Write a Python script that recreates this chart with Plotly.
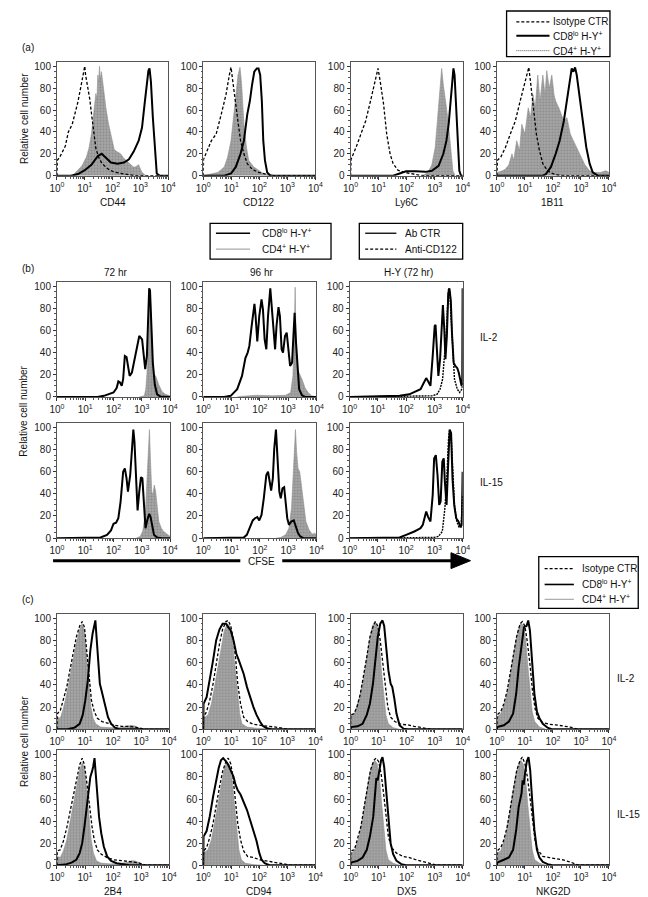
import plotly.graph_objects as go

W, H = 648, 897

# ---------------------------------------------------------------------------
# DATA: each curve is a list of (log10 fluorescence, relative cell number)
# ---------------------------------------------------------------------------
TICK_LABELS_X = ["10<sup>0</sup>", "10<sup>1</sup>", "10<sup>2</sup>", "10<sup>3</sup>", "10<sup>4</sup>"]
TICK_VALUES_Y = [0, 20, 40, 60, 80, 100]

# ----- panel (a) -----
MARKERS_A = ["CD44", "CD122", "Ly6C", "1B11"]

CD44_ISO = [(0.0, 0), (0.01, 14), (0.1, 17), (0.2, 22), (0.3, 27), (0.41, 40), (0.55, 47), (0.65, 57),
            (0.75, 67), (0.85, 80), (0.92, 88), (0.97, 95), (1.0, 100), (1.03, 92), (1.1, 82), (1.18, 70),
            (1.25, 55), (1.32, 38), (1.4, 25), (1.5, 17), (1.6, 12), (1.75, 8), (1.9, 5), (2.1, 3),
            (2.3, 2), (2.5, 1), (2.8, 0), (4.0, 0)]
CD44_CD4 = [(0.6, 1), (0.76, 5), (0.9, 9), (1.06, 17), (1.15, 25), (1.24, 38), (1.3, 50), (1.35, 62),
            (1.4, 75), (1.44, 70), (1.47, 92), (1.5, 85), (1.53, 100), (1.56, 88), (1.6, 95), (1.65, 85),
            (1.7, 72), (1.76, 62), (1.85, 48), (1.94, 38), (2.06, 24), (2.15, 22), (2.29, 20), (2.4, 16),
            (2.53, 13), (2.65, 10), (2.75, 8), (2.82, 8), (2.94, 10), (3.0, 6), (3.06, 3), (3.2, 0)]
CD44_CD8 = [(0.0, 0), (0.5, 0), (0.76, 1.5), (1.0, 5), (1.24, 10), (1.47, 18), (1.61, 20), (1.76, 16),
            (1.94, 12), (2.18, 11), (2.41, 12), (2.59, 15), (2.76, 22), (2.94, 32), (3.06, 44), (3.15, 65),
            (3.24, 83), (3.29, 96), (3.33, 98), (3.38, 86), (3.45, 53), (3.53, 17), (3.59, 2), (3.7, 0),
            (4.0, 0)]

CD122_ISO = [(0.0, 0), (0.01, 15), (0.29, 32), (0.46, 38), (0.64, 56), (0.81, 74), (0.93, 92), (0.99, 99),
             (1.04, 89), (1.12, 71), (1.22, 53), (1.33, 32), (1.45, 20), (1.57, 11), (1.74, 6), (1.97, 3),
             (2.26, 1), (2.49, 0), (4.0, 0)]
CD122_CD4 = [(0.0, 0), (0.29, 1.5), (0.52, 3), (0.75, 8), (0.87, 17), (0.99, 32), (1.08, 53), (1.16, 77),
             (1.24, 92), (1.31, 99), (1.37, 83), (1.45, 47), (1.54, 26), (1.62, 14), (1.8, 8), (1.97, 5),
             (2.14, 2), (2.38, 0)]
CD122_CD8 = [(0.0, 0), (0.75, 0), (0.99, 2), (1.16, 8), (1.33, 20), (1.45, 32), (1.57, 56), (1.66, 68),
             (1.74, 83), (1.82, 95), (1.91, 98), (1.97, 98), (2.03, 92), (2.09, 68), (2.14, 32), (2.2, 14),
             (2.28, 3), (2.38, 0.5), (2.49, 0), (4.0, 0)]

LY6C_ISO = [(0.0, 0), (0.02, 15), (0.2, 26), (0.37, 38), (0.54, 50), (0.71, 68), (0.89, 89), (0.98, 98),
            (1.06, 86), (1.18, 65), (1.29, 38), (1.41, 20), (1.52, 11), (1.69, 5), (1.93, 3), (2.21, 1.5),
            (2.44, 0.5), (2.67, 0), (4.0, 0)]
LY6C_CD4 = [(2.56, 0), (2.67, 1.5), (2.79, 4.5), (2.9, 10), (3.02, 26), (3.11, 53), (3.19, 83), (3.25, 98),
            (3.31, 83), (3.37, 68), (3.42, 62), (3.48, 50), (3.54, 32), (3.6, 14), (3.65, 4.5), (3.73, 0)]
LY6C_CD8 = [(0.0, 0), (1.52, 0), (1.75, 2), (1.98, 4), (2.33, 4), (2.67, 3.5), (2.9, 4.5), (3.14, 9),
            (3.31, 20), (3.42, 32), (3.5, 47), (3.57, 68), (3.63, 92), (3.67, 98), (3.71, 92), (3.77, 62),
            (3.83, 26), (3.88, 4.5), (3.94, 0), (4.0, 0)]

B11_ISO = [(0.0, 0), (0.02, 14), (0.14, 17), (0.31, 26), (0.48, 38), (0.66, 50), (0.83, 68), (1.0, 86),
           (1.08, 95), (1.14, 99), (1.2, 86), (1.29, 65), (1.41, 38), (1.52, 23), (1.64, 11), (1.81, 4.5),
           (1.98, 2), (2.21, 0.5), (2.44, 0), (4.0, 0)]
B11_CD4 = [(0.0, 0), (0.02, 3), (0.2, 4.5), (0.31, 6), (0.43, 10), (0.54, 20), (0.6, 14), (0.71, 32),
           (0.81, 23), (0.89, 47), (1.0, 38), (1.12, 62), (1.2, 53), (1.29, 74), (1.37, 62), (1.46, 92),
           (1.54, 68), (1.64, 92), (1.72, 74), (1.78, 96), (1.87, 80), (1.96, 92), (2.04, 74), (2.1, 68),
           (2.21, 62), (2.31, 56), (2.39, 50), (2.5, 53), (2.62, 38), (2.73, 32), (2.85, 26), (2.96, 20),
           (3.14, 10), (3.31, 4.5), (3.48, 3), (3.71, 3), (3.88, 4.5), (4.0, 3)]
B11_CD8 = [(0.0, 0), (1.64, 0), (1.75, 1.5), (1.93, 8), (2.1, 20), (2.24, 32), (2.39, 50), (2.5, 68),
           (2.62, 92), (2.67, 98), (2.73, 95), (2.79, 99), (2.85, 92), (2.96, 71), (3.08, 47), (3.19, 26),
           (3.31, 11), (3.42, 3), (3.6, 0), (4.0, 0)]

# ----- panel (b) CFSE -----
TITLES_B = ["72 hr", "96 hr", "H-Y (72 hr)"]
ROWS_B = ["IL-2", "IL-15"]

H72_IL2_CD8 = [(0.0, 0), (1.43, 0), (1.66, 1), (1.83, 2.5), (2.0, 4), (2.11, 8), (2.17, 14), (2.23, 13),
               (2.29, 10), (2.34, 16), (2.4, 37), (2.46, 36), (2.51, 28), (2.57, 19), (2.65, 22), (2.74, 34),
               (2.82, 44), (2.91, 55), (3.01, 52), (3.06, 37), (3.12, 25), (3.18, 37), (3.22, 72), (3.26, 98),
               (3.29, 96), (3.34, 64), (3.39, 31), (3.46, 11), (3.54, 2.4), (3.66, 0.3), (4.0, 0)]
H72_IL2_CD4 = [(2.91, 0), (3.09, 1), (3.14, 7), (3.2, 28), (3.26, 64), (3.29, 96), (3.33, 72), (3.37, 37),
               (3.43, 20), (3.49, 19), (3.6, 11), (3.71, 5), (3.83, 2.4), (4.0, 1)]
H96_IL2_CD8 = [(0.0, 0), (0.74, 0), (0.97, 1), (1.2, 7), (1.37, 19), (1.49, 35), (1.57, 40), (1.63, 46),
               (1.71, 64), (1.81, 84), (1.85, 73), (1.91, 50), (1.98, 73), (2.06, 88), (2.11, 79), (2.17, 52),
               (2.23, 43), (2.29, 73), (2.37, 98), (2.42, 81), (2.48, 55), (2.54, 43), (2.59, 64), (2.66, 81),
               (2.71, 73), (2.77, 43), (2.82, 40), (2.89, 55), (2.95, 58), (3.01, 40), (3.07, 28), (3.14, 31),
               (3.2, 73), (3.23, 76), (3.28, 49), (3.34, 22), (3.39, 7), (3.49, 1.5), (3.6, 0), (4.0, 0)]
H96_IL2_CD4 = [(1.2, 0), (1.31, 0.5), (1.89, 1.5), (2.46, 1), (2.91, 1.5), (3.09, 4), (3.17, 19), (3.21, 49),
               (3.25, 99), (3.28, 49), (3.33, 25), (3.39, 22), (3.49, 16), (3.6, 8), (3.71, 4), (3.83, 1),
               (4.0, 0)]
HY_IL2_CTR = [(0.0, 0), (1.43, 0.3), (1.77, 1), (2.11, 2.4), (2.34, 5), (2.51, 7), (2.63, 13), (2.71, 17),
              (2.78, 14), (2.86, 10), (2.94, 37), (3.01, 64), (3.04, 65), (3.09, 43), (3.14, 19), (3.2, 34),
              (3.26, 73), (3.3, 83), (3.35, 61), (3.39, 34), (3.44, 55), (3.49, 93), (3.53, 98), (3.58, 87),
              (3.62, 58), (3.68, 31), (3.74, 28), (3.81, 26), (3.86, 22), (3.92, 13), (3.96, 10),
              (3.985, 16), (3.997, 98)]
HY_IL2_ANTI = [(0.0, 0), (2.57, 0.3), (2.91, 1), (3.09, 2.4), (3.2, 7), (3.29, 16), (3.35, 34), (3.42, 58),
               (3.46, 79), (3.5, 98), (3.54, 96), (3.59, 73), (3.65, 37), (3.71, 16), (3.81, 7), (3.89, 4),
               (3.97, 7), (4.0, 13)]

H72_IL15_CD8 = [(0.0, 0), (1.2, 0), (1.54, 0.6), (1.77, 3), (1.91, 7), (2.0, 13), (2.09, 14), (2.17, 18),
                (2.25, 33), (2.34, 60), (2.4, 63), (2.46, 54), (2.51, 42), (2.59, 57), (2.66, 90), (2.7, 98),
                (2.74, 87), (2.8, 54), (2.85, 25), (2.91, 42), (2.97, 55), (3.02, 54), (3.07, 30), (3.13, 9),
                (3.19, 16), (3.26, 22), (3.31, 19), (3.37, 9), (3.43, 3), (3.54, 0.6), (3.71, 0), (4.0, 0)]
H72_IL15_CD4 = [(2.8, 0), (2.94, 1.5), (3.03, 6), (3.1, 18), (3.14, 30), (3.2, 63), (3.25, 90), (3.27, 98),
                (3.3, 75), (3.35, 42), (3.39, 39), (3.44, 48), (3.49, 42), (3.54, 27), (3.6, 15), (3.69, 9),
                (3.77, 6), (3.85, 4.5), (3.94, 3), (4.0, 1.5)]
H96_IL15_CD8 = [(0.0, 0), (1.2, 0), (1.43, 0.6), (1.54, 3), (1.66, 10), (1.75, 16), (1.83, 18), (1.91, 19),
                (1.98, 16), (2.06, 21), (2.14, 36), (2.23, 57), (2.29, 60), (2.34, 51), (2.4, 43), (2.46, 54),
                (2.51, 81), (2.57, 98), (2.63, 75), (2.69, 42), (2.74, 36), (2.8, 45), (2.86, 46), (2.91, 33),
                (2.97, 18), (3.03, 12), (3.11, 15), (3.2, 16), (3.28, 10), (3.35, 4.5), (3.43, 1.5), (3.54, 0),
                (4.0, 0)]
H96_IL15_CD4 = [(2.57, 0), (2.74, 0.6), (2.91, 3), (3.03, 9), (3.12, 27), (3.17, 54), (3.22, 84), (3.26, 98),
                (3.3, 78), (3.35, 63), (3.41, 60), (3.47, 48), (3.54, 30), (3.63, 15), (3.74, 7.5), (3.85, 3.6),
                (3.94, 4.5), (4.0, 3)]
HY_IL15_CTR = [(0.0, 0), (1.43, 0), (1.77, 0.6), (2.0, 3), (2.17, 4.5), (2.29, 6), (2.4, 7.5), (2.51, 9),
               (2.59, 12), (2.71, 24), (2.78, 19), (2.86, 15), (2.94, 39), (2.99, 72), (3.05, 75), (3.11, 57),
               (3.17, 30), (3.22, 33), (3.28, 69), (3.33, 72), (3.37, 51), (3.43, 30), (3.49, 69), (3.54, 98),
               (3.59, 95), (3.64, 54), (3.7, 30), (3.77, 18), (3.85, 15), (3.92, 10), (3.97, 12), (3.997, 60)]
HY_IL15_ANTI = [(0.0, 0), (2.57, 0), (2.97, 0.6), (3.14, 1.5), (3.28, 6), (3.37, 27), (3.44, 54), (3.5, 90),
                (3.54, 98), (3.59, 93), (3.65, 57), (3.71, 30), (3.79, 15), (3.87, 10), (3.94, 10), (4.0, 39)]

# ----- panel (c) -----
MARKERS_C = ["2B4", "CD94", "DX5", "NKG2D"]
ROWS_C = ["IL-2", "IL-15"]

B4_IL2_ISO = [(0.0, 0), (0.01, 14), (0.12, 17), (0.23, 26), (0.35, 38), (0.46, 53), (0.58, 68), (0.69, 83),
              (0.81, 93), (0.9, 97), (0.98, 92), (1.06, 71), (1.15, 44), (1.23, 26), (1.33, 16), (1.44, 10),
              (1.61, 7), (1.84, 5), (2.07, 3.6), (2.31, 2.7), (2.54, 2.7), (2.77, 2), (3.0, 1), (3.17, 0),
              (4.0, 0)]
B4_IL2_CD4 = [(0.0, 0), (0.01, 11), (0.12, 10), (0.23, 19), (0.35, 32), (0.46, 47), (0.58, 63), (0.69, 78),
              (0.81, 90), (0.9, 95), (0.98, 89), (1.06, 68), (1.14, 41), (1.21, 20), (1.29, 10), (1.38, 5),
              (1.56, 2), (1.9, 1.5), (2.25, 1.5), (2.48, 2.7), (2.65, 3.6), (2.77, 3), (2.94, 1.5), (3.05, 0)]
B4_IL2_CD8 = [(0.0, 0), (0.4, 0.3), (0.63, 1.5), (0.81, 5), (0.92, 13), (1.01, 26), (1.1, 44), (1.19, 71),
              (1.27, 86), (1.33, 92), (1.37, 98), (1.42, 80), (1.48, 59), (1.53, 41), (1.59, 35), (1.65, 29),
              (1.73, 20), (1.82, 11), (1.93, 5), (2.07, 1.5), (2.25, 0), (4.0, 0)]

CD94_IL2_ISO = [(0.0, 0), (0.01, 11), (0.12, 16), (0.23, 26), (0.35, 41), (0.46, 59), (0.58, 77), (0.69, 90),
                (0.81, 97), (0.89, 98), (0.98, 93), (1.06, 83), (1.15, 65), (1.23, 41), (1.33, 23), (1.44, 11),
                (1.58, 7), (1.79, 4.5), (2.02, 4), (2.31, 2.7), (2.59, 2), (2.82, 1), (3.05, 0), (4.0, 0)]
CD94_IL2_CD4 = [(0.0, 0), (0.01, 10), (0.17, 13), (0.29, 23), (0.4, 38), (0.52, 56), (0.63, 74), (0.75, 89),
                (0.86, 95), (0.95, 93), (1.04, 80), (1.12, 59), (1.21, 32), (1.3, 14), (1.38, 5), (1.56, 2),
                (1.9, 1), (2.36, 0.5), (2.59, 0)]
CD94_IL2_CD8 = [(0.0, 0), (0.01, 23), (0.12, 29), (0.23, 44), (0.35, 62), (0.46, 80), (0.58, 90), (0.69, 95),
                (0.81, 95), (0.89, 92), (0.98, 89), (1.08, 80), (1.18, 68), (1.27, 62), (1.35, 56), (1.44, 50),
                (1.56, 38), (1.67, 29), (1.79, 20), (1.9, 13), (2.02, 7), (2.13, 3), (2.27, 1), (2.42, 0),
                (4.0, 0)]

DX5_IL2_ISO = [(0.0, 0), (0.01, 13), (0.12, 14), (0.23, 20), (0.35, 32), (0.46, 47), (0.58, 65), (0.69, 83),
               (0.81, 93), (0.89, 97), (0.97, 93), (1.06, 80), (1.15, 59), (1.23, 38), (1.33, 20), (1.43, 11),
               (1.58, 7), (1.81, 4.5), (2.04, 4), (2.27, 2.7), (2.56, 1.5), (2.91, 0), (4.0, 0)]
DX5_IL2_CD4 = [(0.0, 0), (0.01, 13), (0.14, 14), (0.31, 28), (0.43, 41), (0.54, 59), (0.66, 78), (0.77, 92),
               (0.86, 97), (0.95, 93), (1.03, 77), (1.1, 53), (1.18, 29), (1.26, 13), (1.35, 5), (1.52, 1.5),
               (1.75, 0)]
DX5_IL2_CD8 = [(0.0, 0), (0.01, 2), (0.25, 2.7), (0.43, 5), (0.58, 13), (0.69, 23), (0.8, 41), (0.89, 62),
               (0.97, 83), (1.06, 95), (1.14, 98), (1.2, 93), (1.27, 74), (1.35, 53), (1.43, 41), (1.49, 38),
               (1.56, 28), (1.64, 14), (1.75, 3.6), (1.89, 0.6), (2.04, 0), (4.0, 0)]

NKG_IL2_ISO = [(0.0, 0), (0.01, 13), (0.14, 16), (0.25, 23), (0.37, 35), (0.48, 50), (0.6, 68), (0.71, 84),
               (0.83, 95), (0.91, 97), (1.0, 93), (1.08, 80), (1.18, 59), (1.27, 35), (1.36, 19), (1.46, 10),
               (1.64, 6), (1.87, 4.5), (2.1, 4), (2.33, 3), (2.62, 2), (2.91, 0), (4.0, 0)]
NKG_IL2_CD4 = [(0.0, 0), (0.01, 11), (0.14, 14), (0.31, 26), (0.43, 41), (0.54, 59), (0.66, 77), (0.77, 90),
               (0.86, 96), (0.95, 93), (1.03, 80), (1.1, 59), (1.18, 35), (1.26, 16), (1.35, 7), (1.52, 2),
               (1.75, 0)]
NKG_IL2_CD8 = [(0.0, 0), (0.01, 2), (0.25, 3.6), (0.43, 7), (0.58, 14), (0.69, 32), (0.78, 56), (0.88, 77),
               (0.97, 92), (1.06, 93), (1.12, 98), (1.18, 89), (1.26, 62), (1.34, 32), (1.43, 16), (1.52, 10),
               (1.64, 5), (1.81, 1.5), (1.98, 0), (4.0, 0)]

B4_IL15_ISO = [(0.0, 0), (0.01, 13), (0.12, 14), (0.23, 22), (0.35, 34), (0.46, 47), (0.58, 62), (0.69, 77),
               (0.81, 91), (0.9, 97), (0.98, 91), (1.07, 74), (1.16, 53), (1.25, 35), (1.33, 23), (1.44, 14),
               (1.58, 10), (1.79, 7), (2.02, 5), (2.25, 4.5), (2.48, 4), (2.71, 3), (2.94, 2), (3.17, 0),
               (4.0, 0)]
B4_IL15_CD4 = [(0.0, 0), (0.01, 8), (0.12, 7), (0.23, 13), (0.35, 23), (0.46, 38), (0.58, 56), (0.69, 73),
               (0.81, 86), (0.9, 93), (0.98, 88), (1.06, 68), (1.14, 44), (1.22, 23), (1.3, 11), (1.41, 4),
               (1.56, 2), (1.9, 1.2), (2.25, 1.8), (2.48, 2.4), (2.65, 4), (2.77, 4), (2.88, 3), (3.0, 1.5),
               (3.11, 0)]
B4_IL15_CD8 = [(0.0, 0), (0.29, 0.6), (0.52, 2.4), (0.69, 5), (0.81, 11), (0.9, 20), (0.98, 35), (1.06, 53),
               (1.13, 71), (1.19, 80), (1.25, 85), (1.29, 89), (1.34, 97), (1.38, 83), (1.44, 62), (1.5, 44),
               (1.58, 29), (1.67, 17), (1.79, 8), (1.93, 4), (2.13, 1.8), (2.36, 0.6), (2.59, 0), (4.0, 0)]

CD94_IL15_ISO = [(0.0, 0), (0.01, 13), (0.12, 16), (0.23, 25), (0.35, 38), (0.46, 55), (0.58, 71), (0.69, 85),
                 (0.81, 94), (0.89, 97), (0.98, 92), (1.06, 80), (1.15, 59), (1.23, 38), (1.33, 23), (1.44, 13),
                 (1.58, 8), (1.79, 7), (2.02, 5), (2.31, 4), (2.59, 2.4), (2.88, 1.2), (3.11, 0), (4.0, 0)]
CD94_IL15_CD4 = [(0.0, 0), (0.01, 11), (0.17, 14), (0.29, 23), (0.4, 38), (0.52, 56), (0.63, 74), (0.75, 88),
                 (0.84, 94), (0.93, 91), (1.03, 77), (1.11, 56), (1.19, 32), (1.27, 14), (1.36, 5), (1.5, 1.8),
                 (1.79, 0.6), (2.13, 0)]
CD94_IL15_CD8 = [(0.0, 0), (0.01, 26), (0.12, 31), (0.23, 44), (0.35, 62), (0.46, 77), (0.55, 88), (0.63, 95),
                 (0.71, 97), (0.81, 94), (0.89, 91), (0.98, 86), (1.08, 80), (1.15, 73), (1.23, 68), (1.33, 64),
                 (1.44, 58), (1.56, 50), (1.67, 41), (1.79, 32), (1.9, 22), (2.0, 11), (2.08, 5), (2.19, 1.8),
                 (2.36, 0), (4.0, 0)]

DX5_IL15_ISO = [(0.0, 0), (0.01, 13), (0.14, 14), (0.25, 23), (0.37, 35), (0.48, 52), (0.6, 70), (0.71, 86),
                (0.83, 95), (0.91, 97), (1.0, 94), (1.09, 83), (1.18, 65), (1.26, 44), (1.35, 26), (1.46, 16),
                (1.64, 11), (1.87, 8), (2.1, 7), (2.33, 5), (2.62, 3), (2.91, 1.2), (3.08, 0), (4.0, 0)]
DX5_IL15_CD4 = [(0.0, 0), (0.01, 11), (0.14, 13), (0.31, 26), (0.43, 43), (0.54, 62), (0.66, 80), (0.77, 91),
                (0.86, 95), (0.95, 92), (1.03, 80), (1.1, 59), (1.18, 32), (1.26, 14), (1.35, 5), (1.52, 1.8),
                (1.75, 0)]
DX5_IL15_CD8 = [(0.0, 0), (0.01, 2.4), (0.25, 4), (0.43, 7), (0.58, 14), (0.69, 26), (0.81, 44), (0.89, 65),
                (0.92, 79), (0.97, 77), (1.04, 89), (1.09, 95), (1.14, 98), (1.2, 89), (1.27, 68), (1.35, 41),
                (1.43, 20), (1.52, 10), (1.64, 4), (1.81, 1), (1.98, 0), (4.0, 0)]

NKG_IL15_ISO = [(0.0, 0), (0.01, 13), (0.14, 16), (0.25, 23), (0.37, 35), (0.48, 52), (0.6, 71), (0.71, 86),
                (0.83, 95), (0.91, 98), (1.0, 92), (1.09, 80), (1.18, 62), (1.27, 41), (1.36, 23), (1.46, 14),
                (1.64, 8), (1.87, 7), (2.1, 6), (2.33, 5), (2.62, 3), (2.91, 0), (4.0, 0)]
NKG_IL15_CD4 = [(0.0, 0), (0.01, 11), (0.14, 13), (0.31, 26), (0.43, 44), (0.54, 62), (0.66, 80), (0.77, 91),
                (0.86, 95), (0.95, 91), (1.03, 77), (1.1, 56), (1.18, 32), (1.26, 14), (1.35, 5), (1.52, 1.8),
                (1.75, 0)]
NKG_IL15_CD8 = [(0.0, 0), (0.01, 2.4), (0.25, 5), (0.43, 7), (0.58, 14), (0.69, 32), (0.78, 53), (0.88, 65),
                (0.92, 77), (0.96, 73), (1.02, 86), (1.07, 94), (1.13, 98), (1.19, 86), (1.26, 59), (1.34, 32),
                (1.43, 14), (1.52, 7), (1.64, 3), (1.81, 1), (1.98, 0), (4.0, 0)]

# ---------------------------------------------------------------------------
# STYLES AND LAYOUT
# ---------------------------------------------------------------------------
FONT = "Liberation Sans, Arial, Helvetica, sans-serif"
TICK_SIZE = 10
LABEL_SIZE = 10
FILL = dict(mode="lines", line=dict(color="#8f8f8f", width=0.6), fill="tozeroy", fillcolor="#a3a3a3",
            fillpattern=dict(shape=".", fgcolor="#6e6e6e", bgcolor="#a6a6a6", size=3, solidity=0.35))
SOLID = dict(mode="lines", line=dict(color="black", width=2))
DASH = dict(mode="lines", line=dict(color="black", width=1.3, dash="3px,2px"))
DOTDASH = dict(mode="lines", line=dict(color="black", width=1.4, dash="2px,1px"))

def px(x):
    return x / W

def py(y):
    return 1 - y / H

fig = go.Figure()
layout = {}
n_axes = [0]
MINOR_X = [m * 10 ** k for k in range(4) for m in range(2, 10)]

def add_panel(x0, x1, y0, y100, curves):
    n_axes[0] += 1
    n = n_axes[0]
    sfx = "" if n == 1 else str(n)
    ytop = y0 - 1.04 * (y0 - y100)
    layout["xaxis" + sfx] = dict(
        type="log", range=[0, 4], domain=[px(x0), px(x1)], anchor="y" + sfx,
        showline=True, mirror=True, linecolor="#555", linewidth=1, ticks="outside", ticklen=3,
        tickcolor="#333", tickvals=[1, 10, 100, 1000, 10000], ticktext=TICK_LABELS_X,
        tickfont=dict(size=TICK_SIZE, color="#222", family=FONT), showgrid=False, zeroline=False,
        minor=dict(tickmode="array", tickvals=MINOR_X, ticks="outside", ticklen=2, tickcolor="#555",
                   showgrid=False))
    layout["yaxis" + sfx] = dict(
        range=[0, 104], domain=[py(y0), py(ytop)], anchor="x" + sfx,
        showline=True, mirror=True, linecolor="#555", linewidth=1, ticks="outside", ticklen=3,
        tickcolor="#333", tickvals=TICK_VALUES_Y, tickfont=dict(size=TICK_SIZE, color="#222", family=FONT),
        showgrid=False, zeroline=False,
        minor=dict(dtick=5, ticks="outside", ticklen=1.5, tickcolor="#555", showgrid=False))
    for data, style in curves:
        fig.add_trace(go.Scatter(x=[10 ** p[0] for p in data], y=[p[1] for p in data],
                                 xaxis="x" + sfx, yaxis="y" + sfx, showlegend=False,
                                 hoverinfo="skip", **style))

# panel (a)
XA = [(42, 156), (192, 307), (343, 458), (493, 608)]
A_CURVES = [(CD44_CD4, CD44_ISO, CD44_CD8), (CD122_CD4, CD122_ISO, CD122_CD8),
            (LY6C_CD4, LY6C_ISO, LY6C_CD8), (B11_CD4, B11_ISO, B11_CD8)]
for (x0, x1), (c4, iso, c8) in zip(XA, A_CURVES):
    add_panel(x0, x1, 168, 57.7, [(c4, FILL), (iso, DASH), (c8, SOLID)])

# panel (b)
XB = [(42, 158), (192, 308), (342, 458)]
B_ROWS = [(391, 279.3, [(H72_IL2_CD4, H72_IL2_CD8), (H96_IL2_CD4, H96_IL2_CD8), (HY_IL2_ANTI, HY_IL2_CTR)]),
          (533.3, 421.7, [(H72_IL15_CD4, H72_IL15_CD8), (H96_IL15_CD4, H96_IL15_CD8),
                          (HY_IL15_ANTI, HY_IL15_CTR)])]
for y0, y100, row in B_ROWS:
    for i, ((x0, x1), (first, second)) in enumerate(zip(XB, row)):
        if i < 2:
            add_panel(x0, x1, y0, y100, [(first, FILL), (second, SOLID)])
        else:
            add_panel(x0, x1, y0, y100, [(first, DOTDASH), (second, SOLID)])

# panel (c)
XC = [(42, 157), (192, 307), (343, 458), (493, 608)]
C_ROWS = [(726, 614, [(B4_IL2_CD4, B4_IL2_ISO, B4_IL2_CD8), (CD94_IL2_CD4, CD94_IL2_ISO, CD94_IL2_CD8),
                      (DX5_IL2_CD4, DX5_IL2_ISO, DX5_IL2_CD8), (NKG_IL2_CD4, NKG_IL2_ISO, NKG_IL2_CD8)]),
          (863, 751.7, [(B4_IL15_CD4, B4_IL15_ISO, B4_IL15_CD8), (CD94_IL15_CD4, CD94_IL15_ISO, CD94_IL15_CD8),
                        (DX5_IL15_CD4, DX5_IL15_ISO, DX5_IL15_CD8), (NKG_IL15_CD4, NKG_IL15_ISO, NKG_IL15_CD8)])]
for y0, y100, row in C_ROWS:
    for (x0, x1), (c4, iso, c8) in zip(XC, row):
        add_panel(x0, x1, y0, y100, [(c4, FILL), (iso, DASH), (c8, SOLID)])

# ---------------------------------------------------------------------------
# annotations, legends, arrow
# ---------------------------------------------------------------------------
ann = []
shapes = []

def text(x, y, s, size=LABEL_SIZE, xanchor="center", angle=0):
    ann.append(dict(x=px(x), y=py(y), xref="paper", yref="paper", text=s, showarrow=False,
                    xanchor=xanchor, yanchor="middle", textangle=angle,
                    font=dict(size=size, color="#111", family=FONT)))

def hline(x0, x1, y, color="black", width=1, dash="solid"):
    shapes.append(dict(type="line", xref="paper", yref="paper", x0=px(x0), x1=px(x1), y0=py(y), y1=py(y),
                       line=dict(color=color, width=width, dash=dash)))

def box(x0, y0, x1, y1):
    shapes.append(dict(type="rect", xref="paper", yref="paper", x0=px(x0), x1=px(x1), y0=py(y1), y1=py(y0),
                       line=dict(color="black", width=1.3), fillcolor="white"))

# panel labels
text(4, 39, "(a)", xanchor="left")
text(4, 262, "(b)", xanchor="left")
text(4, 595, "(c)", xanchor="left")

# y titles
for yc in (110, 405, 738):
    text(8, yc, "Relative cell number", angle=-90)

# x titles (a) and (c)
for (x0, x1), name in zip(XA, MARKERS_A):
    text((x0 + x1) / 2, 195, name)
for (x0, x1), name in zip(XC, MARKERS_C):
    text((x0 + x1) / 2, 889, name)

# column titles (b)
for (x0, x1), name in zip(XB, TITLES_B):
    text((x0 + x1) / 2 + 2, 266, name)

# row labels
text(474, 331, ROWS_B[0], xanchor="left")
text(474, 477, ROWS_B[1], xanchor="left")
text(614, 675, ROWS_C[0], xanchor="left")
text(614, 812, ROWS_C[1], xanchor="left")

# legend (a)
box(503, 2, 609, 48)
hline(513, 547, 13, dash="3px,2px", width=1.3)
hline(513, 547, 27, width=2)
hline(513, 547, 42, color="#555", width=1, dash="1px,1px")
text(549, 13, "Isotype CTR", xanchor="left")
text(549, 27, "CD8<sup>lo</sup> H-Y<sup>+</sup>", xanchor="left")
text(549, 42, "CD4<sup>+</sup> H-Y<sup>+</sup>", xanchor="left")

# legend (b) 1
box(199, 216, 323, 252)
hline(205, 240, 226, width=1.6)
hline(205, 240, 242, color="#aaaaaa", width=1.2)
text(250, 226, "CD8<sup>lo</sup> H-Y<sup>+</sup>", xanchor="left")
text(250, 242, "CD4<sup>+</sup> H-Y<sup>+</sup>", xanchor="left")

# legend (b) 2
box(352, 216, 458, 252)
hline(358, 390, 226, width=1.3)
hline(358, 390, 242, dash="3px,2px", width=1.3)
text(397, 226, "Ab CTR", xanchor="left")
text(397, 242, "Anti-CD122", xanchor="left")

# legend (c)
box(536, 552, 638, 604)
hline(542, 572, 564, dash="3px,2px", width=1.3)
hline(542, 572, 580, width=1.6)
hline(542, 572, 595, color="#aaaaaa", width=1.2)
text(578, 564, "Isotype CTR", xanchor="left")
text(578, 580, "CD8<sup>lo</sup> H-Y<sup>+</sup>", xanchor="left")
text(578, 595, "CD4<sup>+</sup> H-Y<sup>+</sup>", xanchor="left")

# CFSE arrow
hline(38, 230, 556, width=3)
hline(273, 450, 556, width=3)
shapes.append(dict(type="path", xref="paper", yref="paper",
                   path="M %f,%f L %f,%f L %f,%f Z" % (px(446), py(548), px(466), py(556), px(446), py(564)),
                   fillcolor="black", line=dict(color="black", width=1)))
text(252, 557, "CFSE")

fig.update_layout(width=W, height=H, autosize=False, margin=dict(l=0, r=0, t=0, b=0),
                  paper_bgcolor="white", plot_bgcolor="white", showlegend=False,
                  annotations=ann, shapes=shapes, font=dict(family=FONT), **layout)
fig.write_html("out.html")
